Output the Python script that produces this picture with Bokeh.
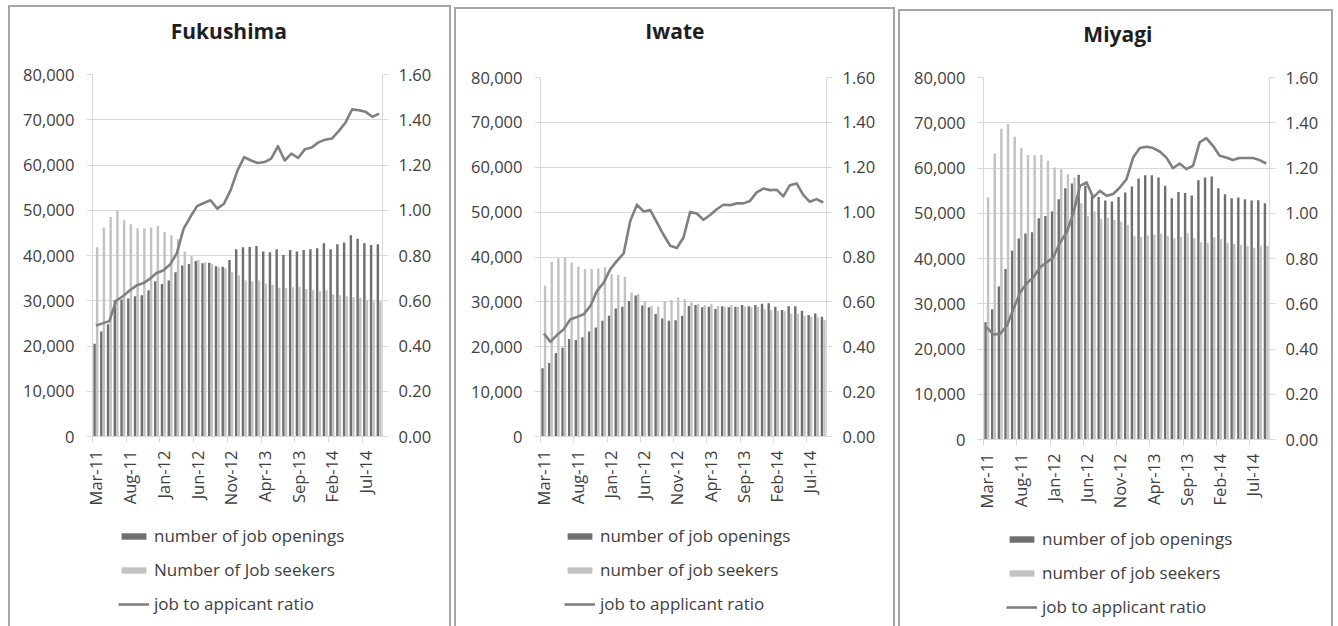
import math

from bokeh.core.properties import value
from bokeh.embed import file_html
from bokeh.layouts import column, row
from bokeh.models import (ColumnDataSource, FixedTicker, Legend, LegendItem,
                          LinearAxis, NumeralTickFormatter, Range1d)
from bokeh.plotting import figure
from bokeh.resources import INLINE
from bokeh.transform import dodge

# ---------------------------------------------------------------- data
panel_titles = ["Fukushima", "Iwate", "Miyagi"]

months = [
    "Mar-11", "Apr-11", "May-11", "Jun-11", "Jul-11", "Aug-11", "Sep-11", "Oct-11",
    "Nov-11", "Dec-11", "Jan-12", "Feb-12", "Mar-12", "Apr-12", "May-12", "Jun-12",
    "Jul-12", "Aug-12", "Sep-12", "Oct-12", "Nov-12", "Dec-12", "Jan-13", "Feb-13",
    "Mar-13", "Apr-13", "May-13", "Jun-13", "Jul-13", "Aug-13", "Sep-13", "Oct-13",
    "Nov-13", "Dec-13", "Jan-14", "Feb-14", "Mar-14", "Apr-14", "May-14", "Jun-14",
    "Jul-14", "Aug-14", "Sep-14",
]
tick_labels = ["Mar-11", "Aug-11", "Jan-12", "Jun-12", "Nov-12",
               "Apr-13", "Sep-13", "Feb-14", "Jul-14"]

fukushima_openings = [
    20500, 23200, 24800, 30100, 30300, 30500, 31000, 31200, 32300, 34300,
    33700, 34500, 36300, 37800, 38100, 38800, 38300, 38400, 37600, 37500,
    39000, 41400, 41800, 41900, 42100, 40900, 40700, 41400, 40100, 41200,
    40900, 41200, 41400, 41600, 42700, 41400, 42500, 42900, 44500, 43700,
    42700, 42300, 42500,
]
fukushima_seekers = [
    41800, 46200, 48500, 49900, 47800, 46900, 46000, 46000, 46200, 46500,
    45200, 44500, 43600, 40900, 39900, 39000, 38500, 38100, 37400, 37200,
    36300, 35600, 34500, 34300, 34500, 33800, 33500, 32900, 32800, 33000,
    33100, 32600, 32400, 32100, 32300, 31400, 31200, 31000, 30800, 30600,
    30100, 29900, 29900,
]
fukushima_ratio = [
    0.49, 0.50, 0.51, 0.60, 0.62, 0.645, 0.667, 0.677, 0.697, 0.723,
    0.734, 0.76, 0.81, 0.918, 0.97, 1.018, 1.032, 1.044, 1.007, 1.029,
    1.09, 1.176, 1.235, 1.22, 1.209, 1.213, 1.228, 1.283, 1.22, 1.25,
    1.231, 1.27, 1.277, 1.30, 1.312, 1.317, 1.35, 1.387, 1.446, 1.442,
    1.435, 1.413, 1.427,
]

iwate_openings = [
    15200, 16400, 18600, 19800, 21700, 21500, 22100, 23400, 24300, 25800,
    26900, 28500, 28900, 30200, 31400, 29200, 28800, 27300, 26300, 25800,
    25900, 26900, 29100, 29300, 28800, 28900, 28400, 29000, 28800, 28900,
    29300, 29000, 29300, 29600, 29700, 28900, 28200, 29000, 29000, 28000,
    27100, 27400, 26700,
]
iwate_seekers = [
    33600, 38900, 39700, 39900, 38800, 37800, 37300, 37300, 37500, 37700,
    36200, 36000, 35600, 32100, 31700, 30200, 29100, 28900, 30200, 30400,
    31000, 30600, 29900, 29600, 29300, 29600, 29100, 28900, 29300, 28900,
    28900, 28800, 28900, 28400, 28200, 28000, 27900, 27400, 27300, 26900,
    26700, 26500, 25900,
]
iwate_ratio = [
    0.459, 0.422, 0.453, 0.478, 0.523, 0.533, 0.545, 0.582, 0.649, 0.686,
    0.746, 0.783, 0.816, 0.961, 1.033, 1.003, 1.009, 0.954, 0.899, 0.85,
    0.84, 0.887, 1.001, 0.994, 0.966, 0.987, 1.013, 1.033, 1.031, 1.039,
    1.039, 1.05, 1.088, 1.105, 1.098, 1.10, 1.07, 1.12, 1.128, 1.077,
    1.046, 1.058, 1.043,
]

miyagi_openings = [
    25900, 28800, 33800, 37700, 41700, 44400, 45500, 45800, 48900, 49400,
    50400, 53100, 55500, 56600, 58500, 56100, 53900, 53600, 52800, 52600,
    53600, 54600, 55900, 57700, 58400, 58400, 57900, 56100, 53300, 54700,
    54500, 53900, 57300, 57900, 58100, 55500, 54200, 53300, 53500, 53100,
    52800, 52900, 52200,
]
miyagi_seekers = [
    53500, 63200, 68700, 69700, 66900, 64500, 62900, 62800, 62900, 61600,
    60100, 59700, 58600, 57900, 52200, 49400, 50400, 48800, 49000, 48500,
    48100, 47400, 44900, 44800, 45100, 45300, 45500, 45000, 44500, 44800,
    45600, 44500, 43600, 43500, 44700, 44300, 43500, 43200, 43000, 42700,
    42400, 42800, 42800,
]
miyagi_ratio = [
    0.496, 0.464, 0.467, 0.503, 0.577, 0.65, 0.69, 0.717, 0.761, 0.783,
    0.805, 0.871, 0.915, 0.999, 1.121, 1.136, 1.07, 1.099, 1.077, 1.085,
    1.114, 1.151, 1.246, 1.288, 1.294, 1.288, 1.273, 1.246, 1.199, 1.22,
    1.195, 1.21, 1.313, 1.332, 1.298, 1.254, 1.246, 1.235, 1.244, 1.244,
    1.244, 1.235, 1.22,
]

count_ticks = [0, 10000, 20000, 30000, 40000, 50000, 60000, 70000, 80000]
ratio_ticks = [0.0, 0.2, 0.4, 0.6, 0.8, 1.0, 1.2, 1.4, 1.6]

# ---------------------------------------------------------------- style
FONT = "Open Sans"
TEXT = "#404040"
GRID = "#d9d9d9"
DARK = "#6f6f6f"
LIGHT = "#c2c2c2"
LINE = "#808080"
BORDER = "#a6a6a6"
TICK_FONT = "16.5px"


def bare_figure(width, height):
    p = figure(width=width, height=height, output_backend="svg",
               toolbar_location=None, tools="",
               x_axis_type=None, y_axis_type=None,
               x_range=Range1d(0, 1), y_range=Range1d(0, 1), min_border=0)
    p.outline_line_color = None
    p.grid.grid_line_color = None
    p.border_fill_color = "white"
    return p


def style_axis(axis, standoff):
    axis.axis_line_color = GRID
    axis.major_tick_line_color = GRID
    axis.minor_tick_line_color = None
    axis.major_tick_in = 0
    axis.major_tick_out = 6
    axis.major_label_standoff = standoff
    axis.major_label_text_font = FONT
    axis.major_label_text_font_size = TICK_FONT
    axis.major_label_text_color = TEXT


def make_source(openings, seekers, ratio):
    return ColumnDataSource(dict(i=list(range(len(months))), month=months,
                                 openings=openings, seekers=seekers, ratio=ratio))


def draw_bars_and_line(p, src, ratio_range="ratio"):
    r_open = p.vbar(x=dodge("i", -0.19, range=p.x_range), top="openings",
                    width=0.36, source=src, fill_color=DARK, line_color=None)
    r_seek = p.vbar(x=dodge("i", 0.19, range=p.x_range), top="seekers",
                    width=0.36, source=src, fill_color=LIGHT, line_color=None)
    r_ratio = p.line(x="i", y="ratio", source=src, y_range_name=ratio_range,
                     line_color=LINE, line_width=2.6, line_join="round")
    return r_open, r_seek, r_ratio


def title_strip(title, width, height):
    p = bare_figure(width, height)
    p.text(x=[0.47], y=[0.5], text=[title], text_align="center",
           text_baseline="middle", text_font=value(FONT),
           text_font_size="21px", text_font_style="bold", text_color="#1e1e1e")
    return p


def chart(src, width, height, borders):
    left, right, top, bottom = borders
    n = len(months)
    p = figure(width=width, height=height, output_backend="svg",
               toolbar_location=None, tools="",
               x_range=Range1d(-0.5, n - 0.5), y_range=Range1d(0, 80000),
               min_border_left=left, min_border_right=right,
               min_border_top=top, min_border_bottom=bottom)
    p.extra_y_ranges = {"ratio": Range1d(0, 1.6)}
    p.outline_line_color = None
    p.border_fill_color = "white"

    p.xgrid.grid_line_color = None
    p.ygrid.grid_line_color = GRID

    # left count axis
    yax = p.yaxis[0]
    yax.ticker = FixedTicker(ticks=count_ticks)
    yax.formatter = NumeralTickFormatter(format="0,0")
    style_axis(yax, 12)

    # right ratio axis
    rax = LinearAxis(y_range_name="ratio",
                     ticker=FixedTicker(ticks=ratio_ticks),
                     formatter=NumeralTickFormatter(format="0.00"))
    style_axis(rax, 10)
    p.add_layout(rax, "right")

    # month axis: labels every fifth month, ticks on the category boundaries
    label_pos = [months.index(m) for m in tick_labels]
    xax = p.xaxis[0]
    xax.ticker = FixedTicker(ticks=label_pos,
                             minor_ticks=[k - 0.5 for k in label_pos])
    xax.major_label_overrides = {k: months[k] for k in label_pos}
    style_axis(xax, 8)
    xax.major_tick_out = 0
    xax.minor_tick_line_color = GRID
    xax.minor_tick_in = 0
    xax.minor_tick_out = 6
    xax.major_label_orientation = math.pi / 2

    draw_bars_and_line(p, src)
    return p


def legend_strip(src, labels, width, height, spot):
    # the key sits in its own strip; its renderers are switched off so only
    # the key entries themselves are painted
    p = bare_figure(width, height)
    renderers = draw_bars_and_line(p, src, ratio_range="default")
    for r in renderers:
        r.visible = False

    legend = Legend(items=[LegendItem(label=lab, renderers=[r])
                           for lab, r in zip(labels, renderers)])
    legend.orientation = "vertical"
    legend.location = spot
    legend.border_line_color = None
    legend.background_fill_alpha = 0
    legend.inactive_fill_alpha = 0
    legend.label_text_font = FONT
    legend.label_text_font_size = "17px"
    legend.label_text_color = TEXT
    legend.glyph_width = 31
    legend.glyph_height = 8
    legend.label_height = 20
    legend.label_standoff = 5
    legend.spacing = 11
    legend.padding = 0
    legend.margin = 0
    p.add_layout(legend)
    return p


def framed(children, margin):
    # thin grey box around each chart, open at the bottom
    return column(*children, margin=margin, spacing=0,
                  styles={"border": f"2px solid {BORDER}", "border-bottom": "none"})


src_f = make_source(fukushima_openings, fukushima_seekers, fukushima_ratio)
src_i = make_source(iwate_openings, iwate_seekers, iwate_ratio)
src_m = make_source(miyagi_openings, miyagi_seekers, miyagi_ratio)

panel_f = framed([
    title_strip(panel_titles[0], 439, 46),
    chart(src_f, 439, 462, (82, 67, 21, 79)),
    legend_strip(src_f, ["number of job openings", "Number of Job seekers",
                         "job to appicant ratio"], 439, 111, (26, 11)),
], (5, 0, 0, 8))
panel_i = framed([
    title_strip(panel_titles[1], 437, 42),
    chart(src_i, 437, 464, (84, 67, 26, 79)),
    legend_strip(src_i, ["number of job openings", "number of job seekers",
                         "job to applicant ratio"], 437, 111, (24, 11)),
], (7, 0, 0, 3))
panel_m = framed([
    title_strip(panel_titles[2], 431, 44),
    chart(src_m, 431, 463, (83, 62, 22, 79)),
    legend_strip(src_m, ["number of job openings", "number of job seekers",
                         "job to applicant ratio"], 431, 108, (23, 8)),
], (9, 0, 0, 3))

layout = row(panel_f, panel_i, panel_m, spacing=0)
with open("out.html", "w") as fh:
    fh.write(file_html(layout, INLINE, title="Job openings and job seekers"))
